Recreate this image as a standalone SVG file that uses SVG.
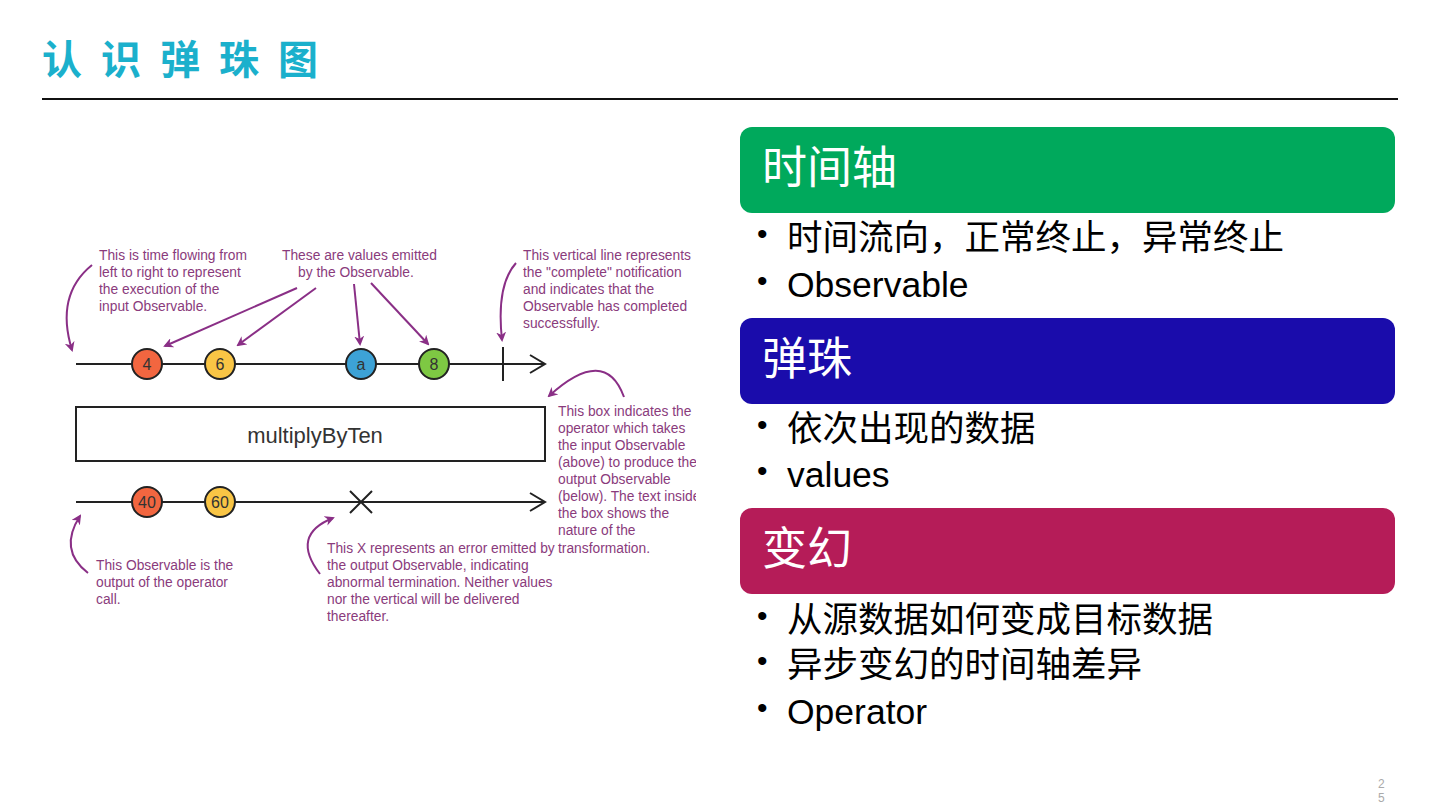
<svg xmlns="http://www.w3.org/2000/svg" width="1440" height="811" viewBox="0 0 1440 811">
<defs>
<style>
.ann{font-family:"Liberation Sans",Arial,sans-serif;font-size:13.8px;fill:#8a3b7c}
.tl{stroke:#222;stroke-width:2;fill:none}
.pc{stroke:#8a2f86;stroke-width:2;fill:none;marker-end:url(#ah)}
.ct{font-family:"Liberation Sans",Arial,sans-serif;font-size:16px;fill:#333;text-anchor:middle}
.mb{stroke:#222;stroke-width:2}
.hd{font-family:"Noto Sans CJK SC",sans-serif;font-size:45px;fill:#fff}
.bl{font-family:"Liberation Sans","Noto Sans CJK SC",sans-serif;font-size:35.5px;fill:#000}
.dot{font-family:"Liberation Sans",sans-serif;font-size:30px;fill:#000}
</style>
<marker id="ah" viewBox="0 0 10 10" refX="8" refY="5" markerWidth="5" markerHeight="5" orient="auto" markerUnits="strokeWidth">
<path d="M0,0 L10,5 L0,10 L3,5 z" fill="#8a2f86"/>
</marker>
<clipPath id="clipL"><rect x="0" y="100" width="696" height="620"/></clipPath>
</defs>
<rect width="1440" height="811" fill="#fff"/>

<g id="title">
<text x="42 101 160 219 278" y="74" style="font-family:'Noto Sans CJK SC',sans-serif;font-size:40px;font-weight:bold;fill:#1bb0cc">认识弹珠图</text>
<line x1="42" y1="99" x2="1398" y2="99" stroke="#111" stroke-width="2"/>
</g>

<g id="marble-diagram" clip-path="url(#clipL)">
<g id="input-timeline">
<line class="tl" x1="76" y1="364" x2="545" y2="364"/>
<polyline class="tl" points="530,355 545,364 530,373"/>
<line class="tl" x1="503" y1="347" x2="503" y2="381"/>
<circle cx="147" cy="364" r="15" fill="#f26640" class="mb"/><text class="ct" x="147" y="370">4</text>
<circle cx="220" cy="364" r="15" fill="#f9c545" class="mb"/><text class="ct" x="220" y="370">6</text>
<circle cx="361" cy="364" r="15" fill="#3da2d6" class="mb"/><text class="ct" x="361" y="370">a</text>
<circle cx="434" cy="364" r="15" fill="#7ec843" class="mb"/><text class="ct" x="434" y="370">8</text>
</g>
<g id="operator-box">
<rect x="76" y="407" width="469" height="54" fill="#fff" stroke="#222" stroke-width="2"/>
<text x="315" y="443" style="font-family:'Liberation Sans',Arial,sans-serif;font-size:22px;fill:#333;text-anchor:middle">multiplyByTen</text>
</g>
<g id="output-timeline">
<line class="tl" x1="76" y1="502" x2="545" y2="502"/>
<polyline class="tl" points="530,493 545,502 530,511"/>
<circle cx="147" cy="502" r="15" fill="#f26640" class="mb"/><text class="ct" x="147" y="508">40</text>
<circle cx="220" cy="502" r="15" fill="#f9c545" class="mb"/><text class="ct" x="220" y="508">60</text>
<path d="M350,491 L372,513 M372,491 L350,513" class="tl"/>
</g>
<g id="annotations">
<text class="ann"><tspan x="99" y="260">This is time flowing from</tspan><tspan x="99" y="277">left to right to represent</tspan><tspan x="99" y="294">the execution of the</tspan><tspan x="99" y="311">input Observable.</tspan></text>
<text class="ann"><tspan x="282" y="260">These are values emitted</tspan><tspan x="298" y="277">by the Observable.</tspan></text>
<text class="ann"><tspan x="523" y="260">This vertical line represents</tspan><tspan x="523" y="277">the "complete" notification</tspan><tspan x="523" y="294">and indicates that the</tspan><tspan x="523" y="311">Observable has completed</tspan><tspan x="523" y="328">successfully.</tspan></text>
<text class="ann"><tspan x="558" y="416">This box indicates the</tspan><tspan x="558" y="433">operator which takes</tspan><tspan x="558" y="450">the input Observable</tspan><tspan x="558" y="467">(above) to produce the</tspan><tspan x="558" y="484">output Observable</tspan><tspan x="558" y="501">(below). The text inside</tspan><tspan x="558" y="518">the box shows the</tspan><tspan x="558" y="535">nature of the</tspan><tspan x="558" y="553">transformation.</tspan></text>
<text class="ann"><tspan x="96" y="570">This Observable is the</tspan><tspan x="96" y="587">output of the operator</tspan><tspan x="96" y="604">call.</tspan></text>
<text class="ann"><tspan x="327" y="553">This X represents an error emitted by</tspan><tspan x="327" y="570">the output Observable, indicating</tspan><tspan x="327" y="587">abnormal termination. Neither values</tspan><tspan x="327" y="604">nor the vertical will be delivered</tspan><tspan x="327" y="621">thereafter.</tspan></text>
</g>
<g id="connectors">
<path class="pc" d="M92,265 Q55,295 72,350"/>
<path class="pc" d="M297,288 L165,346"/>
<path class="pc" d="M316,288 L238,345"/>
<path class="pc" d="M354,284 L360,344"/>
<path class="pc" d="M371,283 L428,344"/>
<path class="pc" d="M516,263 Q496,285 502,340"/>
<path class="pc" d="M624,397 Q605,345 549,396"/>
<path class="pc" d="M88,573 Q58,550 80,516"/>
<path class="pc" d="M320,574 Q290,535 333,518"/>
</g>
</g>

<g id="section-timeline">
<rect x="740" y="127" width="655" height="86" rx="12" fill="#00a95c"/>
<text class="hd" x="762" y="184">时间轴</text>
<text class="dot" x="757" y="244">•</text><text class="bl" x="787" y="250">时间流向，正常终止，异常终止</text>
<text class="dot" x="757" y="291">•</text><text class="bl" x="787" y="297">Observable</text>
</g>
<g id="section-marbles">
<rect x="740" y="318" width="655" height="86" rx="12" fill="#1a0cab"/>
<text class="hd" x="762" y="375">弹珠</text>
<text class="dot" x="757" y="435">•</text><text class="bl" x="787" y="441">依次出现的数据</text>
<text class="dot" x="757" y="481">•</text><text class="bl" x="787" y="487">values</text>
</g>
<g id="section-transform">
<rect x="740" y="508" width="655" height="86" rx="12" fill="#b51c58"/>
<text class="hd" x="762" y="565">变幻</text>
<text class="dot" x="757" y="626">•</text><text class="bl" x="787" y="632">从源数据如何变成目标数据</text>
<text class="dot" x="757" y="671">•</text><text class="bl" x="787" y="677">异步变幻的时间轴差异</text>
<text class="dot" x="757" y="718">•</text><text class="bl" x="787" y="724">Operator</text>
</g>
<g id="page-number">
<text x="1378" y="788" style="font-family:'Liberation Sans',sans-serif;font-size:12px;fill:#aaa">2</text>
<text x="1378" y="802" style="font-family:'Liberation Sans',sans-serif;font-size:12px;fill:#aaa">5</text>
</g>
</svg>
